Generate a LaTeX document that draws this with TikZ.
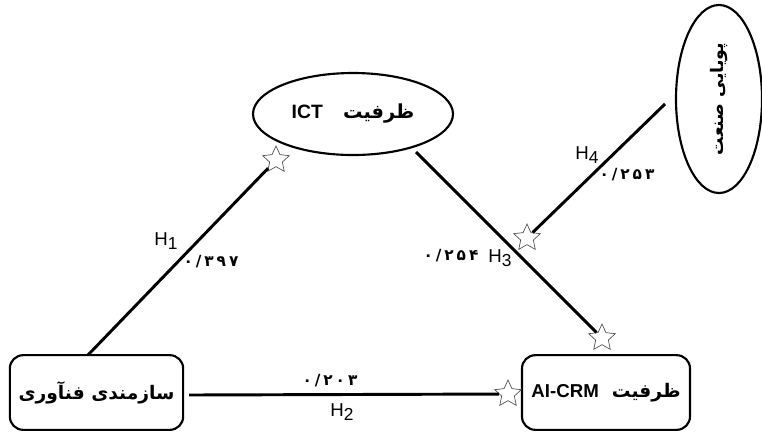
\documentclass[tikz,border=0pt]{standalone}
\usepackage{fontspec}
\setmainfont{Liberation Sans}
\newfontfamily\farsi[Script=Arabic]{DejaVu Sans}
\TeXXeTstate=1
\usetikzlibrary{shapes.geometric,positioning,calc}

\tikzset{
    box/.style={draw,line width=1.6pt,rounded corners=10pt,minimum height=56pt,font=\bfseries\fontsize{14}{16}\selectfont},
    oval/.style={draw,ellipse,line width=1.6pt,font=\bfseries\fontsize{14.5}{16}\selectfont},
    pathline/.style={line width=2.2pt},
    starmark/.style={star,star points=5,star point ratio=2.1,draw=black!70,line width=0.5pt,fill=white,minimum size=21pt,inner sep=0pt},
    hyp/.style={font=\fontsize{14}{16}\selectfont},
    coef/.style={font=\farsi\bfseries\fontsize{11.5}{13}\selectfont}
}

\newcommand{\hsub}[1]{H\raisebox{-0.45ex}{\fontsize{13}{14}\selectfont #1}}
\newcommand{\spread}[5]{#1\hspace{2.2pt}#2\hspace{2.2pt}#3\hspace{2.2pt}#4\hspace{2.2pt}#5}

\begin{document}
\begin{tikzpicture}[x=0.75pt,y=-0.75pt]
            \useasboundingbox (0,0) rectangle (762,433);

            \node[box,minimum width=130pt] (tech) at (96.5,392.5) {\farsi\beginR سازمندی فنآوری\endR};
            \node[box,minimum width=126pt] (crm) at (606,392.5) {\farsi\beginR ظرفیت\ \ \beginL\rmfamily AI-CRM\endL\endR};
            \node[oval,minimum width=150pt,minimum height=61.5pt] (ict) at (353,114) {\farsi\beginR ظرفیت\ \ \ \beginL\rmfamily ICT\endL\endR};
            \node[oval,minimum width=64.5pt,minimum height=141pt] (ind) at (719,99) {};
            \node[rotate=90,font=\farsi\bfseries\fontsize{13}{15}\selectfont] (indtext) at (ind.center) {\beginR پویایی صنعت\endR};

            \node[starmark] (s1) at (276,160) {};
            \node[starmark] (s2) at (508,394) {};
            \node[starmark] (s3) at (602,338) {};
            \node[starmark] (s4) at (527,238) {};

            \coordinate (h1a) at (88,355);
            \coordinate (h2a) at (189,395);
            \coordinate (h3a) at (416,152);
            \coordinate (h4a) at (665,104);

            \draw[pathline] (h1a) -- (s1);
            \draw[pathline] (h2a) -- (s2);
            \draw[pathline] (h3a) -- (s3);
            \draw[pathline] (h4a) -- (s4);

            % hypothesis labels and path coefficients
            \node[hyp] (h1) at (166,241) {\hsub{1}};
            \node[coef] (c1) at (211,262) {\spread{۰}{/}{۳}{۹}{۷}};
            \node[hyp] (h2) at (342,412) {\hsub{2}};
            \node[coef] (c2) at (330,381) {\spread{۰}{/}{۲}{۰}{۳}};
            \node[hyp] (h3) at (500,258) {\hsub{3}};
            \node[coef] (c3) at (451,256) {\spread{۰}{/}{۲}{۵}{۴}};
            \node[hyp] (h4) at (587,155) {\hsub{4}};
            \node[coef] (c4) at (627,175) {\spread{۰}{/}{۲}{۵}{۳}};

        \end{tikzpicture}
\end{document}
